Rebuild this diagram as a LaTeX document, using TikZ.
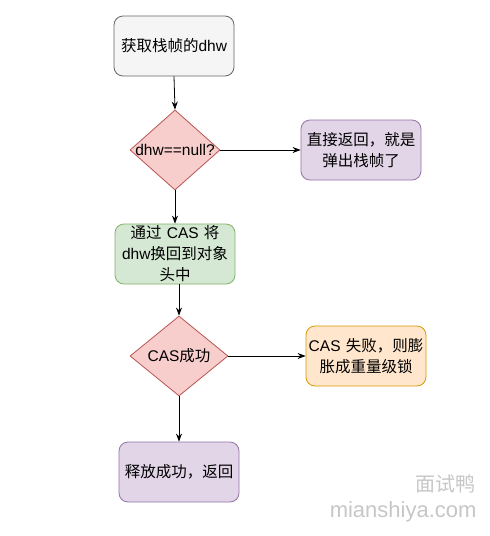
\documentclass[tikz,border=0pt]{standalone}
\usepackage{fontspec}
\setmainfont{Liberation Sans}
\newfontfamily\cj{Noto Sans CJK SC}
\usetikzlibrary{shapes.geometric,arrows.meta}
\definecolor{grayF}{HTML}{F5F5F5}\definecolor{grayS}{HTML}{666666}
\definecolor{redF}{HTML}{F8CECC}\definecolor{redS}{HTML}{B85450}
\definecolor{purF}{HTML}{E1D5E7}\definecolor{purS}{HTML}{9673A6}
\definecolor{grnF}{HTML}{D5E8D4}\definecolor{grnS}{HTML}{82B366}
\definecolor{orgF}{HTML}{FFE6CC}\definecolor{orgS}{HTML}{D79B00}
\begin{document}
\begin{tikzpicture}[x=1pt,y=-1pt,
  every node/.style={font=\fontsize{15.5}{21}\selectfont, text=black},
  rbox/.style={rectangle, rounded corners=9pt, minimum width=120pt, minimum height=60pt, text width=116pt, align=center, inner sep=1pt, line width=0.8pt},
  dia/.style={diamond, minimum width=#1, minimum height=80pt, inner sep=0pt, line width=0.8pt, draw=redS, fill=redF},
  arr/.style={-{Stealth[length=8pt,width=6pt]}, line width=0.8pt}
]
\useasboundingbox (0,0) rectangle (490,536);
\fill[white] (0,0) rectangle (490,536);
\node[rbox, draw=grayS, fill=grayF] (b1) at (174,46) {{\cj 获取栈帧的}dhw};
\node[dia=90pt] (d1) at (175,150) {};
\node at (d1.center) {dhw==null?};
\node[rbox, draw=purS, fill=purF] (b2) at (361,150) {{\cj 直接返回，就是}\\{\cj 弹出栈帧了}};
\node[rbox, draw=grnS, fill=grnF] (b3) at (175,254) {{\cj 通过} CAS {\cj 将}\\dhw{\cj 换回到对象}\\{\cj 头中}};
\node[dia=98pt] (d2) at (179,356) {};
\node at (d2.center) {CAS{\cj 成功}};
\node[rbox, draw=orgS, fill=orgF] (b4) at (366,356) {CAS {\cj 失败，则膨}\\{\cj 胀成重量级锁}};
\node[rbox, draw=purS, fill=purF] (b5) at (179,472) {{\cj 释放成功，返回}};
\draw[arr] (b1.south) -- (d1.north);
\draw[arr] (d1.east) -- (b2.west);
\draw[arr] (d1.south) -- (b3.north);
\draw[arr] (b3.south -| d2.north) -- (d2.north);
\draw[arr] (d2.east) -- (b4.west);
\draw[arr] (d2.south) -- (b5.north);
\node[anchor=east, text=black!22, font=\cj\fontsize{20}{20}\selectfont] (wm1) at (479,484) {面试鸭};
\node[anchor=east, text=black!22, font=\fontsize{22}{22}\selectfont] (wm2) at (480,512) {mianshiya.com};
\end{tikzpicture}
\end{document}
